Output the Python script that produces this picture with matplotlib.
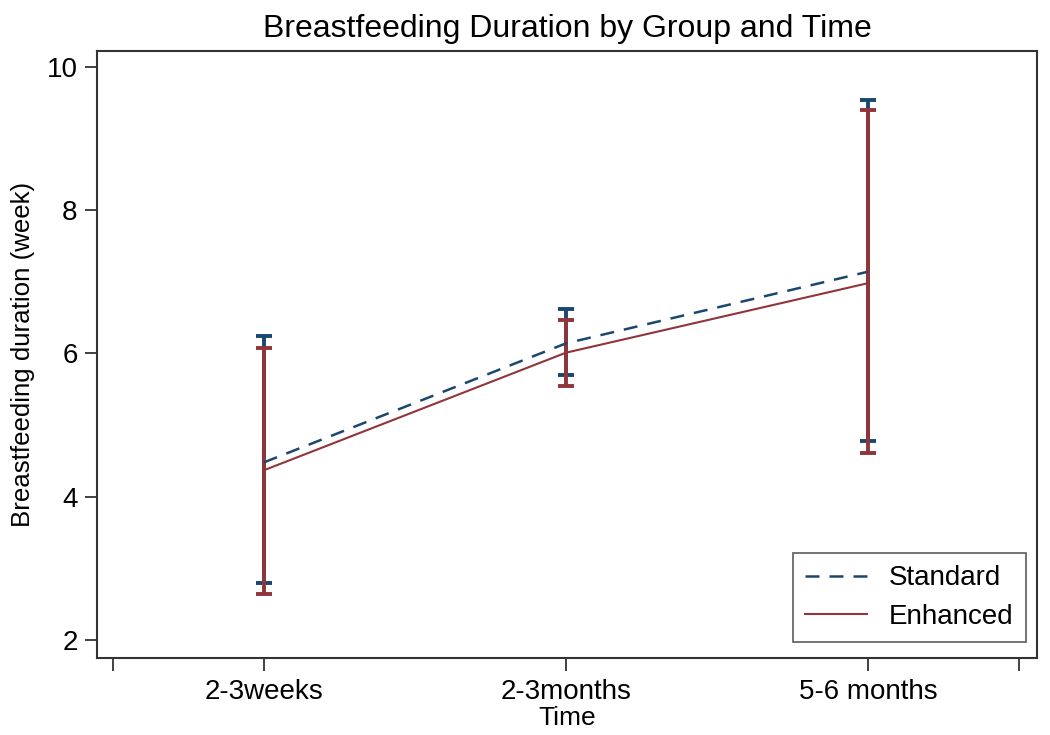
import numpy as np
import matplotlib.pyplot as plt

plt.rcParams['font.family'] = ['Liberation Sans', 'DejaVu Sans']

# data
times = ['2-3weeks', '2-3months', '5-6 months']
std_mean = [4.48, 6.14, 7.14]
std_low = [2.79, 5.70, 4.78]
std_high = [6.24, 6.62, 9.53]
enh_mean = [4.37, 6.01, 6.98]
enh_low = [2.64, 5.55, 4.61]
enh_high = [6.08, 6.47, 9.40]

blue = '#1a476f'
red = '#90353b'

x = np.arange(1, len(times) + 1)

fig = plt.figure(figsize=(10.5, 7.35), dpi=100)
ax = fig.add_axes([0.0924, 0.1048, 0.8952, 0.8258])

std_err = [np.array(std_mean) - np.array(std_low), np.array(std_high) - np.array(std_mean)]
enh_err = [np.array(enh_mean) - np.array(enh_low), np.array(enh_high) - np.array(enh_mean)]

ax.errorbar(x, std_mean, yerr=std_err, fmt='none', ecolor=blue, elinewidth=2.8,
            capsize=6, capthick=2.8, zorder=2)
ax.errorbar(x, enh_mean, yerr=enh_err, fmt='none', ecolor=red, elinewidth=2.8,
            capsize=6, capthick=2.8, zorder=3)
ax.plot(x, std_mean, color=blue, linestyle=(0, (5.6, 4)), linewidth=1.8, label='Standard', zorder=4)
ax.plot(x, enh_mean, color=red, linestyle='-', linewidth=1.5, label='Enhanced', zorder=4)

ax.set_xlim(0.447, 3.56)
ax.set_ylim(1.75, 10.22)
ax.set_xticks([0.5, 1, 2, 3, 3.5])
ax.set_xticklabels(['', times[0], times[1], times[2], ''])
ax.set_yticks([2, 4, 6, 8, 10])
ax.tick_params(axis='both', direction='out', length=9, width=1.3, labelsize=20, color='#333333')
ax.tick_params(axis='x', pad=6)
ax.tick_params(axis='y', pad=5)
for s in ax.spines.values():
    s.set_linewidth(1.5)
    s.set_color('#333333')

ax.set_title('Breastfeeding Duration by Group and Time', fontsize=23, pad=10)
ax.set_xlabel('Time', fontsize=19, labelpad=1)
ax.set_ylabel('Breastfeeding duration (week)', fontsize=18.6, labelpad=8)

leg = ax.legend(loc='lower right', fontsize=20, frameon=True, fancybox=False,
                edgecolor='#333333', handlelength=2.2, borderpad=0.45,
                labelspacing=0.45, bbox_to_anchor=(1.003, 0.003))
leg.get_frame().set_linewidth(1.2)

fig.savefig('out.png', dpi=100)
